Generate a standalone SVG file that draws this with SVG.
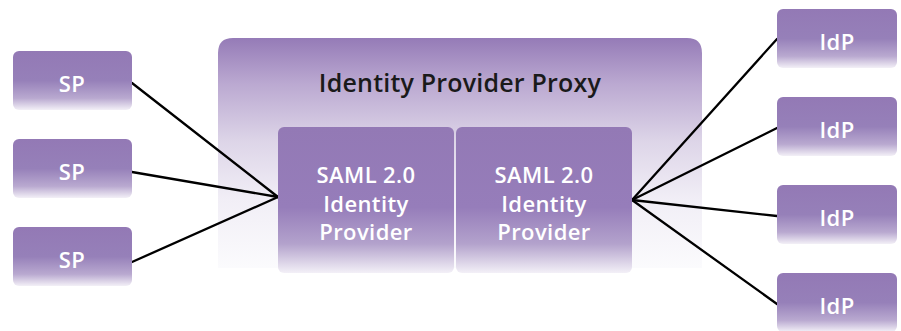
<svg xmlns="http://www.w3.org/2000/svg" width="901" height="331" viewBox="0 0 901 331">
  <defs>
    <linearGradient id="boxFill" x1="0" y1="0" x2="0" y2="1">
      <stop offset="0" stop-color="#9379b5"/>
      <stop offset="0.5" stop-color="#9680b9"/>
      <stop offset="0.8" stop-color="#b9a9d0"/>
      <stop offset="1" stop-color="#f3f0f7"/>
    </linearGradient>
    <linearGradient id="innerFill" x1="0" y1="0" x2="0" y2="1">
      <stop offset="0" stop-color="#9379b5"/>
      <stop offset="0.55" stop-color="#967dba"/>
      <stop offset="0.8" stop-color="#b3a2cc"/>
      <stop offset="1" stop-color="#f3f0f7"/>
    </linearGradient>
    <linearGradient id="proxyFill" x1="0" y1="0" x2="0" y2="1">
      <stop offset="0" stop-color="#957bb7"/>
      <stop offset="0.2" stop-color="#bba9d1"/>
      <stop offset="0.45" stop-color="#ddd5e8"/>
      <stop offset="0.7" stop-color="#f1eef6"/>
      <stop offset="1" stop-color="#fbfbfd"/>
    </linearGradient>
  </defs>
  <style>
    .box { fill: url(#boxFill); }
    .inner { fill: url(#innerFill); }
    text { font-family: "Open Sans", "Liberation Sans", sans-serif; text-anchor: middle; font-variant-ligatures: none; }
    .label { fill: #ffffff; font-size: 22px; font-weight: 600; letter-spacing: 0.4px; }
    .title { fill: #1a1a1a; font-size: 25px; font-weight: 600; letter-spacing: 0.2px; }
    .link { stroke: #000000; stroke-width: 2.3; fill: none; stroke-linecap: round; }
  </style>

  <rect width="901" height="331" fill="#ffffff"/>

  <!-- proxy container -->
  <g id="proxy">
    <path d="M218 53 Q218 38 233 38 L687 38 Q702 38 702 53 L702 268 L218 268 Z" fill="url(#proxyFill)"/>
    <text class="title" x="460" y="92">Identity Provider Proxy</text>
  </g>

  <!-- connectors -->
  <g id="connectors">
    <line class="link" x1="132" y1="83" x2="278" y2="197"/>
    <line class="link" x1="132" y1="172" x2="278" y2="197"/>
    <line class="link" x1="132" y1="262" x2="278" y2="197"/>
    <line class="link" x1="632" y1="200" x2="777" y2="39"/>
    <line class="link" x1="632" y1="200" x2="777" y2="128"/>
    <line class="link" x1="632" y1="200" x2="777" y2="216"/>
    <line class="link" x1="632" y1="200" x2="777" y2="304"/>
  </g>

  <!-- SAML identity providers inside the proxy -->
  <g id="saml-idp-1">
    <rect class="inner" x="278" y="127" width="176" height="146" rx="6"/>
    <text class="label" x="366" y="183">SAML 2.0</text>
    <text class="label" x="366" y="212">Identity</text>
    <text class="label" x="366" y="240">Provider</text>
  </g>
  <g id="saml-idp-2">
    <rect class="inner" x="456" y="127" width="176" height="146" rx="6"/>
    <text class="label" x="544" y="183">SAML 2.0</text>
    <text class="label" x="544" y="212">Identity</text>
    <text class="label" x="544" y="240">Provider</text>
  </g>

  <!-- service providers -->
  <g id="sp-1">
    <rect class="box" x="13" y="51" width="119" height="59" rx="6"/>
    <text class="label" x="72" y="92">SP</text>
  </g>
  <g id="sp-2">
    <rect class="box" x="13" y="139" width="119" height="59" rx="6"/>
    <text class="label" x="72" y="180">SP</text>
  </g>
  <g id="sp-3">
    <rect class="box" x="13" y="227" width="119" height="59" rx="6"/>
    <text class="label" x="72" y="268">SP</text>
  </g>

  <!-- upstream identity providers -->
  <g id="idp-1">
    <rect class="box" x="777" y="9" width="120" height="59" rx="6"/>
    <text class="label" x="837" y="50">IdP</text>
  </g>
  <g id="idp-2">
    <rect class="box" x="777" y="97" width="120" height="59" rx="6"/>
    <text class="label" x="837" y="138">IdP</text>
  </g>
  <g id="idp-3">
    <rect class="box" x="777" y="185" width="120" height="59" rx="6"/>
    <text class="label" x="837" y="226">IdP</text>
  </g>
  <g id="idp-4">
    <rect class="box" x="777" y="273" width="120" height="59" rx="6"/>
    <text class="label" x="837" y="314">IdP</text>
  </g>
</svg>
